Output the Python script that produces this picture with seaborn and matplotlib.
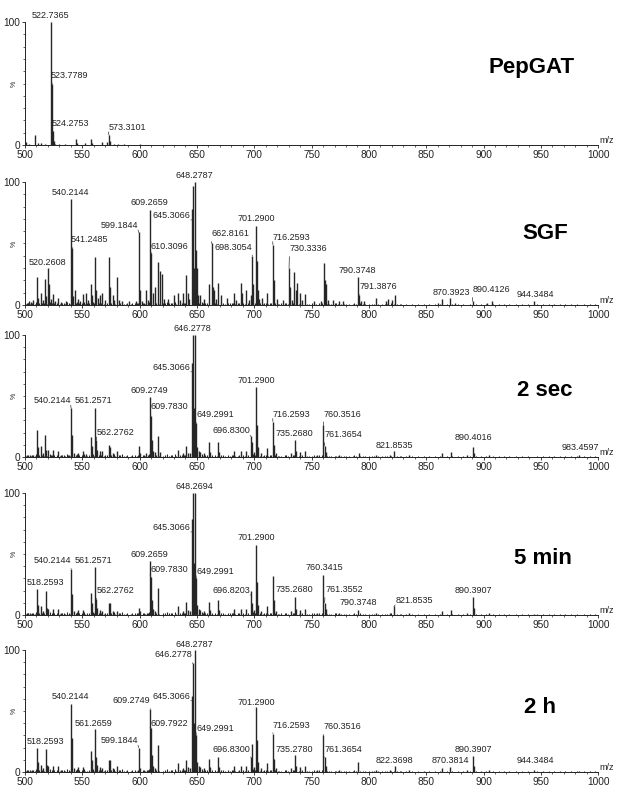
import numpy as np
import matplotlib
matplotlib.use('Agg')
import matplotlib.pyplot as plt
from matplotlib.ticker import MultipleLocator, FixedLocator
import seaborn as sns

sns.set_theme(style='ticks')
plt.rcParams['font.family'] = ['Liberation Sans', 'DejaVu Sans']

# ---- peak lists (m/z, relative intensity %) ----

pep_mz = [501.0, 503.2, 508.7, 511.0, 514.1, 517.5, 522.74, 523.78, 524.28, 525.0,
          526.3, 530.0, 535.2, 544.6, 545.8, 552.5, 557.3, 558.3, 566.8, 571.2,
          573.31, 574.3, 577.5, 581.0, 586.0, 600.3]
pep_int = [2.5, 1.0, 8.0, 1.2, 1.2, 1.0, 100.0, 50.0, 11.0, 3.0,
           1.0, 0.8, 0.7, 5.0, 2.0, 1.5, 5.0, 2.0, 2.5, 2.5,
           8.0, 3.0, 1.0, 0.8, 0.6, 1.0]

sgf_mz = [501.5, 503.5, 505.5, 507.0, 510.2, 511.0, 513.7, 515.5, 517.5, 518.5,
          520.26, 521.0, 522.5, 524.7, 526.5, 529.0, 531.5, 536.0, 540.21, 541.25,
          542.0, 543.6, 546.5, 548.0, 550.9, 553.2, 555.0, 557.3, 558.5, 561.0,
          561.8, 563.5, 565.0, 567.4, 569.5, 572.9, 573.8, 576.5, 578.0, 580.4,
          582.0, 585.0, 591.0, 596.5, 599.18, 600.2, 602.0, 605.9, 607.5, 609.27,
          610.31, 611.5, 613.7, 615.8, 618.0, 619.6, 621.5, 624.5, 629.8, 633.3,
          635.5, 637.7, 640.6, 642.0, 643.5, 645.31, 646.28, 647.3, 648.28, 649.2,
          649.8, 651.0, 653.0, 656.0, 660.4, 662.82, 663.8, 664.8, 666.5, 668.6,
          670.6, 676.5, 682.3, 684.5, 688.1, 689.6, 693.0, 695.0, 697.0, 698.31,
          699.3, 701.29, 702.3, 703.0, 704.5, 706.5, 711.0, 716.26, 717.3, 719.6,
          725.0, 730.33, 731.0, 733.0, 735.0, 736.0, 737.0, 740.0, 742.0, 744.3,
          752.0, 758.0, 760.4, 761.5, 762.7, 764.0, 769.0, 774.0, 777.8, 790.37,
          791.39, 793.0, 795.3, 806.3, 815.0, 817.0, 820.0, 823.0, 860.0, 863.6,
          870.39, 875.0, 890.41, 903.0, 907.3, 944.35]
sgf_int = [2, 3, 2.5, 4, 23, 6, 10, 4, 21, 7,
           30, 17, 5, 9, 3, 6, 2.5, 3, 86, 46,
           7, 12, 5, 3, 9, 10, 4, 17, 8, 39,
           12, 6, 8, 10, 4, 39, 15, 8, 4, 23,
           4, 3, 3, 3, 59, 12, 3, 12, 4, 77,
           42, 10, 15, 35, 28, 25, 5, 5, 8, 10,
           4, 10, 24, 10, 5, 78, 97, 30, 100, 45,
           30, 8, 8, 5, 17, 50, 15, 12, 5, 18,
           8, 6, 10, 4, 18, 10, 12, 4, 8, 40,
           17, 64, 36, 12, 5, 6, 10, 49, 20, 5,
           4, 30, 15, 4, 27, 12, 18, 10, 4, 9,
           3, 3, 34, 20, 17, 4, 4, 3, 3, 23,
           8, 3, 3, 6, 3, 5, 4, 8, 2, 5,
           6, 2, 3, 1.5, 3, 3]

sec2_mz = [501.5, 504.0, 507.0, 510.2, 511.2, 513.7, 515.5, 517.5, 518.7, 520.5,
           522.5, 524.7, 529.0, 531.0, 537.5, 540.21, 541.2, 543.0, 546.5, 550.9,
           553.0, 557.3, 558.2, 561.26, 562.28, 563.2, 565.0, 567.5, 572.9, 574.5,
           576.5, 580.4, 599.2, 600.5, 605.9, 609.27, 609.78, 610.8, 612.0, 613.7,
           615.8, 618.0, 633.3, 637.7, 640.6, 642.0, 644.0, 645.31, 646.28, 647.3,
           648.28, 649.3, 650.3, 652.0, 653.0, 656.0, 660.4, 661.5, 668.6, 669.6,
           682.3, 688.1, 693.0, 696.83, 697.8, 699.5, 701.29, 702.3, 703.5, 706.0,
           711.0, 716.26, 717.3, 719.0, 732.0, 735.27, 736.3, 740.0, 744.3, 755.0,
           760.35, 761.37, 762.5, 774.0, 791.0, 806.0, 818.0, 821.85, 835.0, 863.6,
           871.5, 886.0, 890.4, 891.4, 905.0, 983.46]
sec2_int = [1.5, 1.5, 2, 22, 8, 9, 3, 18, 6, 6,
            2, 6, 5, 2, 2, 40, 18, 3, 3, 5,
            2.5, 16, 9, 40.5, 14, 6, 5, 5, 10, 8,
            3, 5, 9, 3, 3, 49, 34, 14, 5, 4,
            17, 4, 6, 3, 9, 3, 3, 77, 100, 40,
            100, 28, 8, 5, 4, 3, 12, 4, 12, 4,
            5, 5, 5, 17, 12, 4, 57, 26, 8, 3,
            7, 29, 10, 3, 3, 14, 5, 4, 5, 2,
            26, 9, 4, 2, 3, 2, 2, 5, 1.5, 3,
            4, 1.5, 8, 3, 1.5, 1.5]

min5_mz = [501.5, 504.0, 507.0, 510.2, 511.2, 513.7, 515.5, 518.26, 519.0, 520.5,
           524.7, 529.0, 531.0, 540.21, 541.2, 543.0, 546.5, 550.9, 557.3, 558.2,
           561.26, 562.28, 563.2, 565.0, 567.5, 572.9, 574.5, 576.5, 580.4, 599.2,
           600.5, 606.0, 609.27, 609.78, 610.8, 612.0, 613.7, 615.8, 633.3, 637.7,
           640.6, 642.0, 644.0, 645.31, 646.28, 647.3, 648.27, 649.3, 650.3, 652.0,
           653.0, 656.0, 660.4, 661.5, 668.6, 669.6, 682.3, 688.1, 693.0, 696.82,
           697.8, 699.5, 701.29, 702.3, 703.5, 706.0, 711.0, 716.26, 717.3, 719.0,
           732.0, 735.27, 736.3, 740.0, 744.3, 755.0, 760.34, 761.36, 762.5, 774.0,
           790.37, 806.0, 818.0, 821.85, 835.0, 863.6, 871.5, 886.0, 890.39, 891.4,
           905.0, 944.0]
min5_int = [1.5, 1.5, 2, 21, 8, 7, 3, 20, 6, 5,
            5, 5, 2, 38, 17, 3, 4, 4, 18, 10,
            39.5, 13, 6, 4, 3, 10, 10, 3, 3, 6,
            3, 2, 44, 31, 12, 5, 3, 22, 7, 3,
            11, 4, 3, 79, 100, 43, 100, 30, 8, 5,
            4, 3, 11, 4, 12, 4, 5, 5, 5, 20,
            10, 4, 57, 27, 8, 3, 7, 32, 12, 3,
            3, 15, 5, 4, 5, 2, 33, 10, 5, 2,
            4, 2, 2, 7, 1.5, 3, 4, 1.5, 15, 6,
            1.5, 1]

h2_mz = [501.5, 504.0, 507.0, 510.2, 511.2, 513.7, 515.5, 518.26, 519.0, 520.5,
         524.7, 529.0, 531.0, 540.21, 541.2, 543.0, 546.5, 550.9, 557.3, 558.2,
         561.27, 562.3, 563.2, 565.0, 567.5, 572.9, 574.5, 576.5, 580.4, 599.18,
         600.5, 606.0, 609.27, 609.79, 610.8, 612.0, 613.7, 615.8, 633.3, 637.7,
         640.6, 642.0, 644.0, 645.31, 646.28, 647.3, 648.28, 649.3, 650.3, 652.0,
         653.0, 656.0, 660.4, 661.5, 668.6, 669.6, 682.3, 688.1, 693.0, 696.83,
         697.8, 699.5, 701.29, 702.3, 703.5, 706.0, 711.0, 716.26, 717.3, 719.0,
         732.0, 735.28, 736.3, 740.0, 744.3, 755.0, 760.35, 761.37, 762.5, 774.0,
         790.6, 806.0, 818.0, 822.37, 835.0, 863.6, 870.38, 886.0, 890.39, 891.4,
         905.0, 944.35, 983.0]
h2_int = [1.5, 1.5, 2, 20, 8, 6, 3, 19, 6, 5,
          5, 5, 2, 56, 28, 3, 4, 4, 17, 10,
          35, 12, 6, 4, 3, 10, 10, 3, 5, 20,
          3, 2, 52, 36, 14, 5, 3, 22, 7, 3,
          10, 4, 3, 62, 89, 40, 100, 30, 8, 5,
          4, 3, 11, 4, 12, 4, 5, 5, 5, 12,
          23, 4, 53, 26, 8, 3, 7, 31.5, 11, 3,
          3, 14, 5, 4, 5, 2, 30, 12, 5, 2,
          8.5, 2, 2, 5, 1.5, 3, 4, 1.5, 13, 5,
          1.5, 2, 1]

# low-level baseline noise shared by the digest spectra
base_mz = [502.3, 504.8, 506.1, 508.4, 512.6, 516.2, 519.1, 523.4, 527.8, 532.6,
           534.9, 538.2, 544.9, 549.3, 552.1, 556.0, 560.0, 564.3, 568.9, 571.4,
           575.2, 578.8, 583.1, 586.7, 589.4, 592.2, 595.6, 597.9, 602.8, 604.4,
           607.1, 614.6, 617.0, 622.3, 625.9, 628.4, 631.6, 634.8, 638.9, 651.9,
           655.1, 657.4, 659.0, 665.6, 667.4, 671.1, 674.6, 677.3, 680.7, 683.4,
           685.6, 687.0, 692.0, 694.2, 700.3, 705.2, 707.6, 710.1, 712.4, 714.6,
           718.5, 720.8, 723.6, 726.4, 729.0, 733.9, 738.9, 741.5, 745.6, 750.3,
           753.8, 756.9, 763.6, 767.1, 770.0, 773.1, 776.0, 779.6, 782.7, 785.8,
           788.9, 792.3, 796.7, 800.4, 804.1, 808.0, 811.7, 816.0, 819.2, 824.6,
           828.1, 832.4, 837.2, 842.5, 847.9, 852.6, 857.4, 861.8, 868.0, 872.9,
           877.6, 882.4, 888.1, 893.7, 897.6, 902.5, 907.9, 913.3, 917.8, 922.6,
           928.4, 933.6, 939.1, 946.2, 951.8, 956.7, 961.3, 966.5, 970.9, 976.2,
           981.5, 987.3, 992.8, 997.4]
base_int = [1.2, 0.8, 1.5, 1.0, 1.8, 1.2, 0.9, 1.6, 1.1, 1.4,
            1.0, 1.7, 1.3, 2.0, 1.1, 1.5, 1.2, 1.9, 1.0, 1.6,
            1.4, 1.1, 1.8, 1.0, 1.3, 0.9, 1.5, 1.2, 1.7, 1.0,
            1.3, 2.0, 1.1, 1.6, 1.2, 1.4, 1.0, 1.8, 1.5, 1.9,
            1.2, 1.6, 1.0, 1.4, 1.1, 1.7, 0.9, 1.3, 1.5, 1.0,
            1.2, 1.8, 1.1, 1.4, 1.6, 1.2, 1.0, 1.5, 1.1, 1.3,
            1.4, 1.0, 1.2, 1.6, 0.9, 1.3, 1.1, 1.5, 1.0, 1.2,
            0.9, 1.3, 1.1, 0.8, 1.2, 1.0, 0.9, 1.1, 0.8, 1.0,
            0.9, 1.2, 0.8, 1.0, 0.9, 1.1, 0.8, 1.0, 1.2, 0.9,
            0.8, 1.0, 0.7, 0.9, 0.8, 1.0, 0.7, 0.9, 0.8, 1.0,
            0.7, 0.9, 0.8, 0.7, 0.9, 0.8, 1.0, 0.7, 0.8, 0.9,
            0.7, 0.8, 0.9, 0.7, 0.8, 0.7, 0.9, 0.8, 0.7, 0.8,
            0.9, 0.7, 0.8, 0.7]
# extra small spikes in the busy 500-800 region
base2_mz = [500.8, 503.0, 505.0, 509.3, 514.5, 521.7, 525.7, 528.3, 530.4, 533.6,
            536.9, 539.0, 545.6, 547.5, 551.7, 554.4, 559.2, 566.3, 570.2, 577.4,
            581.9, 584.4, 587.9, 593.6, 598.6, 603.6, 608.3, 616.4, 620.6, 623.6,
            627.1, 630.6, 636.7, 639.8, 654.2, 658.6, 663.1, 672.8, 678.6, 681.5,
            690.5, 698.9, 708.7, 713.4, 721.7, 727.6, 734.8, 739.6, 747.4, 751.9,
            759.1, 765.5, 771.6, 778.4, 787.4, 794.6, 803.0, 813.9, 822.0, 827.0]
base2_int = [0.9, 1.4, 0.8, 2.2, 1.6, 2.6, 1.3, 2.0, 1.1, 1.8,
             2.4, 1.0, 2.8, 1.5, 2.1, 1.2, 2.5, 1.9, 1.4, 2.2,
             1.6, 2.3, 1.1, 1.7, 2.0, 1.3, 2.6, 1.8, 1.2, 2.1,
             1.5, 2.4, 1.3, 1.9, 2.2, 1.4, 2.0, 1.6, 1.2, 1.8,
             1.5, 2.2, 1.3, 1.7, 1.1, 1.9, 1.4, 1.6, 1.0, 1.3,
             1.5, 1.1, 1.2, 0.9, 1.3, 1.0, 1.1, 0.9, 1.0, 0.8]

# ---- peak labels and where they sit (x in m/z, y in %, side of leader) ----
pep_labels = ['522.7365', '523.7789', '524.2753', '573.3101']
pep_lpos = [(522.5, 101.5, 'c'), (522.7, 53, 'l'), (523.3, 14, 'l'), (572.7, 10.6, 'l')]

sgf_labels = ['520.2608', '540.2144', '541.2485', '599.1844', '609.2659', '610.3096',
              '645.3066', '648.2787', '662.8161', '698.3054', '701.2900', '716.2593',
              '730.3336', '790.3748', '791.3876', '870.3923', '890.4126', '944.3484']
sgf_lpos = [(519.4, 31, 'c'), (539.7, 88, 'c'), (540.2, 49.6, 'l'), (598.6, 61, 'r'),
            (608.4, 79.3, 'c'), (609.1, 43.9, 'l'), (644.6, 69.2, 'r'), (647.9, 101.4, 'c'),
            (662.3, 54.2, 'l'), (697.8, 43.3, 'r'), (701.5, 66.5, 'c'), (716.1, 51.5, 'l'),
            (730.7, 42, 'l'), (790.2, 24, 'c'), (791.8, 11.4, 'l'), (871.8, 6.5, 'c'),
            (890.4, 8.7, 'l'), (945.3, 4.9, 'c')]

sec2_labels = ['540.2144', '561.2571', '562.2762', '609.2749', '609.7830', '645.3066',
               '646.2778', '649.2991', '696.8300', '701.2900', '716.2593', '735.2680',
               '760.3516', '761.3654', '821.8535', '890.4016', '983.4597']
sec2_lpos = [(539.9, 42.5, 'r'), (560.1, 42.5, 'c'), (562.6, 16.4, 'l'), (608.4, 51.2, 'c'),
             (609.1, 37.5, 'l'), (644.6, 69.9, 'r'), (645.8, 101.4, 'c'), (649.2, 31, 'l'),
             (696.4, 17.8, 'r'), (701.5, 59, 'c'), (716.1, 31.5, 'l'), (735.3, 15.9, 'c'),
             (760.3, 31.5, 'l'), (760.9, 14.5, 'l'), (821.9, 6, 'c'), (890.8, 12.3, 'c'),
             (984.8, 4.1, 'c')]

min5_labels = ['518.2593', '540.2144', '561.2571', '562.2762', '609.2659', '609.7830',
               '645.3066', '648.2694', '649.2991', '696.8203', '701.2900', '735.2680',
               '760.3415', '761.3552', '790.3748', '821.8535', '890.3907']
min5_lpos = [(517.9, 23.2, 'c'), (539.9, 40.9, 'r'), (560.1, 40.9, 'c'), (562.6, 16.3, 'l'),
             (608.4, 45.5, 'c'), (609.1, 33.2, 'l'), (644.6, 68.1, 'r'), (647.9, 101.6, 'c'),
             (649.2, 32.2, 'l'), (696.4, 16.3, 'r'), (701.5, 59.9, 'c'), (735.3, 16.9, 'c'),
             (760.8, 35.4, 'c'), (761.8, 16.9, 'l'), (790.6, 6.8, 'c'), (822.9, 8.2, 'l'),
             (891.1, 16.3, 'c')]

h2_labels = ['518.2593', '540.2144', '561.2659', '599.1844', '609.2749', '609.7922',
             '645.3066', '646.2778', '648.2787', '649.2991', '696.8300', '701.2900',
             '716.2593', '735.2780', '760.3516', '761.3654', '822.3698', '870.3814',
             '890.3907', '944.3484']
h2_lpos = [(517.9, 21.4, 'c'), (539.7, 58.1, 'c'), (560.1, 36.4, 'c'), (598.6, 21.9, 'r'),
           (609.1, 54.8, 'r'), (609.1, 36.4, 'l'), (644.6, 58.4, 'r'), (646.0, 92.3, 'r'),
           (647.9, 100.8, 'c'), (649.2, 32.3, 'l'), (696.4, 15, 'r'), (701.5, 53.4, 'c'),
           (716.1, 34.8, 'l'), (735.3, 15, 'c'), (760.3, 33.4, 'l'), (760.9, 15, 'l'),
           (822.6, 5.5, 'c'), (871.2, 5.5, 'c'), (891.1, 14.5, 'c'), (944.8, 5.5, 'c')]

panels = [
    ('PepGAT', pep_mz, pep_int, pep_labels, pep_lpos, (942, 63), False),
    ('SGF', sgf_mz, sgf_int, sgf_labels, sgf_lpos, (953.7, 58.5), True),
    ('2 sec', sec2_mz, sec2_int, sec2_labels, sec2_lpos, (953.7, 54.5), True),
    ('5 min', min5_mz, min5_int, min5_labels, min5_lpos, (951.5, 46), True),
    ('2 h', h2_mz, h2_int, h2_labels, h2_lpos, (949, 53), True),
]

# axes rectangles (left, bottom, width, height) in figure fraction
boxes = [(0.0405, 0.8158, 0.929, 0.1562),
         (0.0405, 0.6125, 0.929, 0.1562),
         (0.0405, 0.4193, 0.929, 0.155),
         (0.0405, 0.2186, 0.929, 0.155),
         (0.0405, 0.0191, 0.929, 0.155)]

peak_color = '#262626'
lab_size = 6.5

fig = plt.figure(figsize=(6.17, 7.87), dpi=100)

for (name, mz, inten, labels, lpos, name_xy, noisy), box in zip(panels, boxes):
    ax = fig.add_axes(box)
    if noisy:
        ax.vlines(base_mz, 0, base_int, color=peak_color, lw=0.8)
        ax.vlines(base2_mz, 0, base2_int, color=peak_color, lw=0.8)
    ax.vlines(mz, 0, inten, color=peak_color, lw=1.0)

    mz_arr = np.array(mz)
    for lab, (x, y, side) in zip(labels, lpos):
        pk = float(lab)
        h = inten[int(np.argmin(np.abs(mz_arr - pk)))]
        if side == 'c':
            ax.text(x, y, lab, ha='center', va='bottom', fontsize=lab_size,
                    color='#222222', clip_on=False)
        else:
            ha = 'left' if side == 'l' else 'right'
            ax.annotate(lab, xy=(pk, min(h, y)), xytext=(x, y), ha=ha, va='bottom',
                        fontsize=lab_size, color='#222222', annotation_clip=False,
                        arrowprops=dict(arrowstyle='-', lw=0.5, color='#333333',
                                        shrinkA=0, shrinkB=0,
                                        relpos=(0 if side == 'l' else 1, 0)))

    ax.text(name_xy[0], name_xy[1], name, ha='center', va='center',
            fontsize=16, fontweight='bold', color='black')

    ax.set_xlim(500, 1000)
    ax.set_ylim(0, 100)
    ax.xaxis.set_major_locator(MultipleLocator(50))
    ax.xaxis.set_minor_locator(MultipleLocator(10))
    ax.yaxis.set_major_locator(FixedLocator([0, 100]))
    ax.yaxis.set_minor_locator(MultipleLocator(10))
    ax.tick_params(which='major', length=2.5, width=0.6, labelsize=7.3, pad=1,
                   colors='#222222')
    ax.tick_params(which='minor', length=1.3, width=0.5)
    ax.set_ylabel('%', fontsize=5, rotation=90)
    ax.yaxis.set_label_coords(-0.012, 0.5)
    ax.text(1.003, 0.0, 'm/z', transform=ax.transAxes, ha='left', va='bottom',
            fontsize=6.5, color='#222222')
    sns.despine(ax=ax)
    for sp in ['left', 'bottom']:
        ax.spines[sp].set_linewidth(0.7)
        ax.spines[sp].set_color('#222222')

fig.savefig('out.png', dpi=100)
